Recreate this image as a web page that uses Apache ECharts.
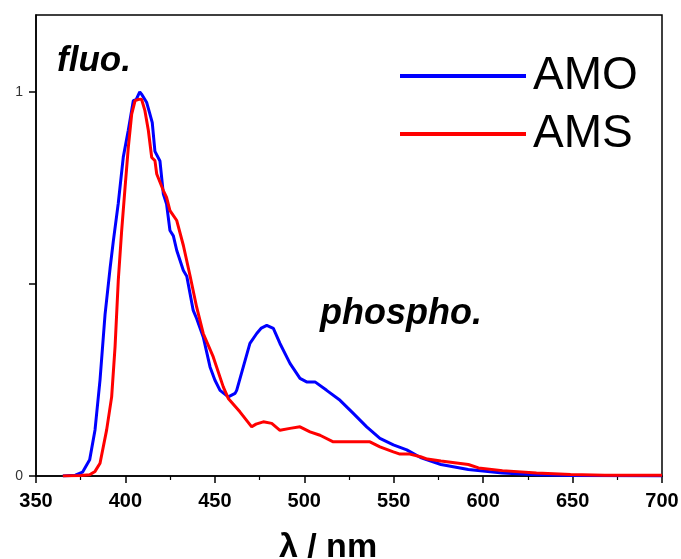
<!DOCTYPE html>
<html>
<head>
<meta charset="utf-8">
<script src="https://cdn.jsdelivr.net/npm/echarts@6/dist/echarts.min.js"></script>
<style>
html,body{margin:0;padding:0;background:#fff;}
#chart{width:681px;height:559px;}
</style>
</head>
<body>
<div id="chart"></div>
<script>
// AMO (blue) spectrum
var amoX = [365,372,376,380,383,385.8,388.6,391.4,393.2,396,398.8,401.6,404.4,406,408,409,411.9,413.7,415,416.5,419.3,421.2,423,424.9,426.8,428.7,432.4,434.3,437.9,439.8,443.5,447.3,450,452.9,457.5,461.3,462.2,465.9,469.6,473.4,476,479,482.7,486.4,492,497.6,501.3,506,512.5,520,527.4,534.9,542.3,549.8,557.3,565,576.4,591.7,610.8,630,650,700];
var amoY = [0,0.002,0.01,0.042,0.12,0.25,0.42,0.54,0.61,0.71,0.83,0.9,0.977,0.98,1.0,0.994,0.972,0.942,0.92,0.845,0.82,0.734,0.708,0.639,0.625,0.587,0.535,0.52,0.431,0.41,0.362,0.284,0.25,0.223,0.206,0.215,0.223,0.284,0.345,0.371,0.385,0.392,0.384,0.345,0.293,0.254,0.245,0.245,0.223,0.197,0.163,0.128,0.098,0.081,0.068,0.048,0.03,0.017,0.008,0.003,0.001,0];
// AMS (red) spectrum
var amsX = [365,375,380,383,385.8,389.5,392.3,394.2,396,397.9,399.8,401.6,403.5,405.4,407,409,410.9,412.8,414.7,416.5,417.5,421.2,423,424.9,428.7,432.4,436.1,439.8,443.5,449.1,454.7,457.5,458.5,464,470.6,473,477.1,481.8,486.4,492,497.6,503.2,508.8,516.2,523.7,531.1,536.7,542.3,549.8,553.5,559,565,568.8,576.4,591.7,597.4,610.8,629.8,648.9,668,700];
var amsY = [0,0.001,0.003,0.012,0.033,0.12,0.206,0.336,0.509,0.639,0.751,0.855,0.942,0.977,0.98,0.981,0.951,0.9,0.829,0.821,0.786,0.743,0.725,0.691,0.665,0.6,0.522,0.44,0.371,0.31,0.232,0.202,0.197,0.167,0.128,0.135,0.141,0.137,0.119,0.124,0.128,0.115,0.106,0.089,0.089,0.089,0.089,0.076,0.063,0.057,0.057,0.05,0.044,0.039,0.03,0.021,0.014,0.008,0.004,0.002,0.002];
var xTicks = [350,400,450,500,550,600,650,700];
var yLabels = [0,1];
var yTicks = [0,0.5,1];
var seriesNames = ['AMO','AMS'];

function pairs(xs, ys){ return xs.map(function(x,i){ return [x, ys[i]]; }); }

var chart = echarts.init(document.getElementById('chart'), null, {renderer:'canvas'});
var FONT = '"Liberation Sans", Arial, sans-serif';
chart.setOption({
  animation:false,
  backgroundColor:'#fff',
  grid:{left:36,right:19,top:15,bottom:83,outerBoundsMode:'none',containLabel:false,
    show:true,borderColor:'#000',borderWidth:1.5,backgroundColor:'transparent'},
  legend:{
    left:395, top:48, orient:'vertical', itemWidth:126, itemHeight:4, itemGap:12,
    icon:'rect',
    data:seriesNames,
    textStyle:{fontFamily:FONT,fontSize:46,color:'#000',lineHeight:46,padding:[0,0,0,2]}
  },
  xAxis:{
    type:'value', min:350, max:700, interval:50,
    axisLine:{show:true,lineStyle:{color:'#000',width:1.5}},
    axisTick:{show:true,length:7,lineStyle:{color:'#000',width:1.5}},
    minorTick:{show:true,splitNumber:2,length:4,lineStyle:{color:'#000',width:1.2}},
    splitLine:{show:false},
    axisLabel:{margin:15,fontFamily:FONT,fontSize:20,fontWeight:'bold',color:'#000',
      customValues:xTicks},
    name:'λ / nm', nameLocation:'middle', nameGap:55,
    nameTextStyle:{fontFamily:FONT,fontSize:34,fontWeight:'bold',color:'#000',padding:[0,42,0,0]}
  },
  yAxis:{
    type:'value', min:0, max:1.2,
    axisLine:{show:true,lineStyle:{color:'#000',width:1.5}},
    axisTick:{show:true,length:7,lineStyle:{color:'#000',width:1.5},customValues:yTicks},
    splitLine:{show:false},
    axisLabel:{margin:13,fontFamily:FONT,fontSize:14,color:'#333',customValues:yLabels}
  },
  graphic:[
    {type:'text',left:57,top:44,style:{text:'fluo.',font:'italic bold 35px '+FONT,fill:'#000'}},
    {type:'text',left:320,top:296,style:{text:'phospho.',font:'italic bold 36px '+FONT,fill:'#000'}}
  ],
  series:[
    {name:'AMO',type:'line',data:pairs(amoX,amoY),showSymbol:false,symbol:'none',
      lineStyle:{color:'#0000FF',width:3},itemStyle:{color:'#0000FF'}},
    {name:'AMS',type:'line',data:pairs(amsX,amsY),showSymbol:false,symbol:'none',
      lineStyle:{color:'#FF0000',width:3},itemStyle:{color:'#FF0000'}}
  ]
});
</script>
</body>
</html>
